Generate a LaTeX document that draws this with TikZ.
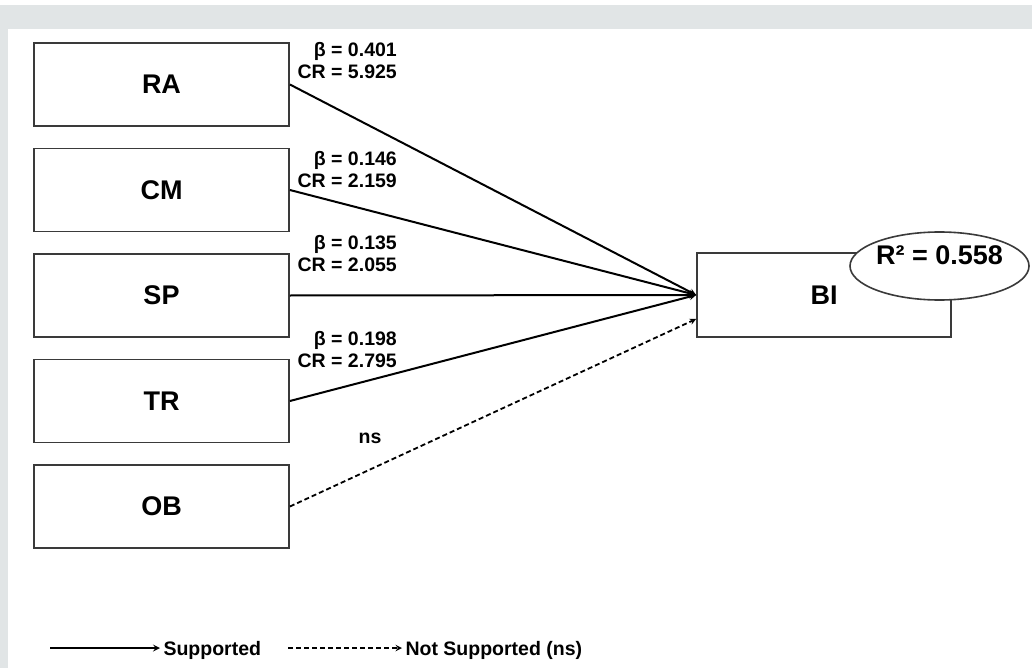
\documentclass[tikz,border=0pt]{standalone}
\usepackage{fontspec}
\setmainfont{Liberation Sans}
\usepackage{tikz}
\usetikzlibrary{arrows, shapes.geometric}

\definecolor{framegray}{HTML}{E1E5E6}
\definecolor{linegray}{HTML}{3A3A3A}

\begin{document}
\begin{tikzpicture}[
        x = 1pt, y = -1pt, % pixel-like units, y going down
        > = stealth, % arrow head style
        node distance = 105.5pt, % distance between constructs
        font = \bfseries
    ]

    \tikzstyle{construct}=[
        draw = linegray,
        line width = 1.8pt,
        fill = white,
        minimum width = 255pt,
        minimum height = 83pt,
        inner sep = 0pt,
        font = \fontsize{27}{30}\selectfont\bfseries
    ]
    \tikzstyle{coef}=[
        align = right,
        anchor = east,
        inner sep = 0pt,
        font = \fontsize{19.5}{22}\selectfont\bfseries
    ]
    \tikzstyle{legend}=[
        anchor = west,
        text depth = 0pt,
        font = \fontsize{19.5}{22}\selectfont\bfseries
    ]
    \tikzstyle{supported}=[->, line width = 2pt]
    \tikzstyle{notsupported}=[->, line width = 1.8pt, dash pattern = on 5pt off 3pt]

    % frame
    \fill[framegray] (0,5) rectangle (1032,668);
    \fill[white] (8,29) rectangle (1032,668);
    \useasboundingbox (0,0) rectangle (1032,668);

    % constructs
    \node[construct] (ra) at (161.5,84.5) {RA};
    \node[construct] (cm) [below of=ra] {CM};
    \node[construct] (sp) [below of=cm] {SP};
    \node[construct] (tr) [below of=sp] {TR};
    \node[construct] (ob) [below of=tr] {OB};

    \node[construct, minimum width = 254pt, minimum height = 84pt] (bi) at (824,295) {BI};
    \node[ellipse, draw = linegray, line width = 1.6pt, fill = white,
          minimum width = 179pt, minimum height = 68pt,
          label = {[yshift = 11pt, font = \fontsize{27}{30}\selectfont\bfseries]center:R² = 0.558}]
          (r2) at (939.5,266) {};

    % paths
    \draw[supported] (ra.east) -- (bi.west);
    \draw[supported] (cm.east) -- (bi.west);
    \draw[supported] (sp.east) -- (bi.west);
    \draw[supported] (tr.east) -- (bi.west);
    \draw[notsupported] (ob.east) -- ([yshift = -24pt]bi.west);

    \node[coef] (ra coef) at (397,61) {β = 0.401\\CR = 5.925};
    \node[coef] (cm coef) at (397,169.5) {β = 0.146\\CR = 2.159};
    \node[coef] (sp coef) at (397,254) {β = 0.135\\CR = 2.055};
    \node[coef] (tr coef) at (397,349.5) {β = 0.198\\CR = 2.795};
    \node[coef, anchor = center] (ob coef) at (370,438) {ns};

    % legend
    \coordinate (sup start) at (50,648);
    \node[legend] (sup) at (160,648) {Supported};
    \draw[supported] (sup start) -- (sup.west);

    \coordinate (nsup start) at (288,648);
    \node[legend] (nsup) at (402,648) {Not Supported (ns)};
    \draw[notsupported] (nsup start) -- (nsup.west);

\end{tikzpicture}
\end{document}
